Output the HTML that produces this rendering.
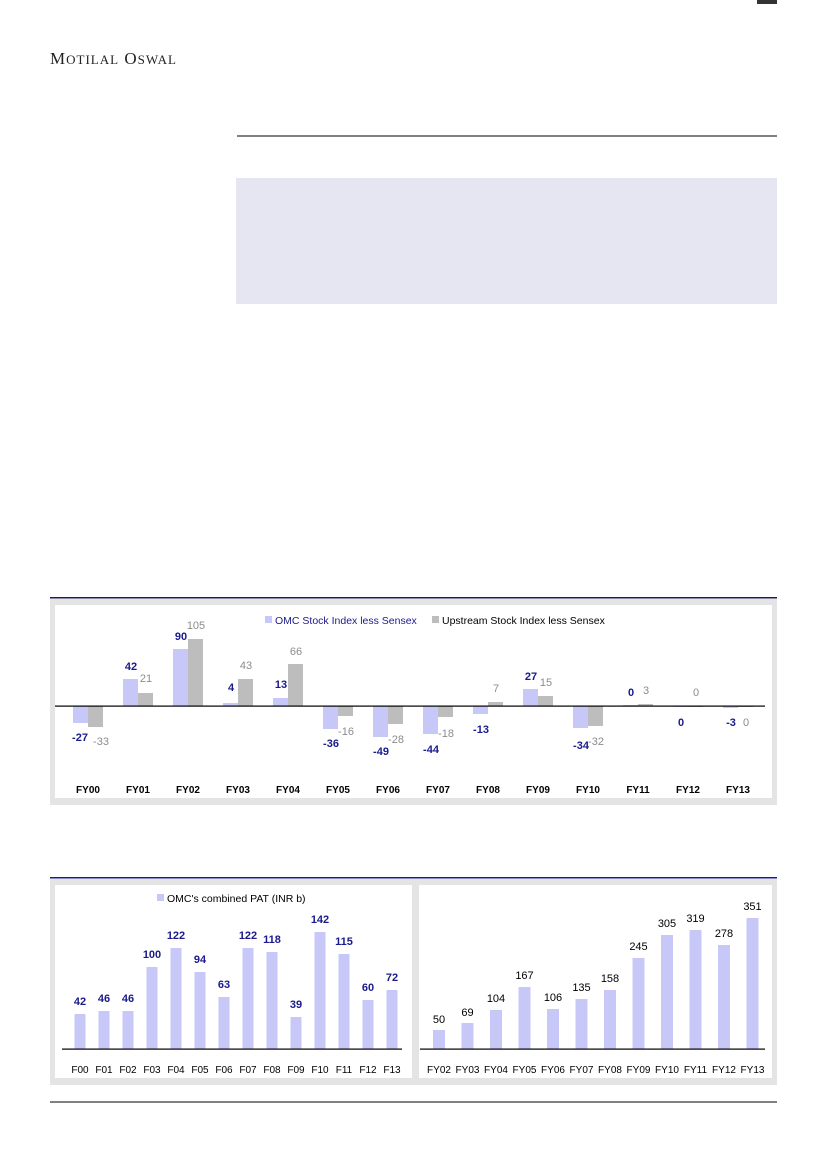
<!DOCTYPE html>
<html><head><meta charset="utf-8"><style>
body{margin:0;background:#fff}
svg{display:block}
text{font-family:"Liberation Sans",sans-serif}
.bl{fill:#1a1a8c;font-weight:bold;font-size:11px;text-anchor:middle}
.gr{fill:#8c8c8c;font-size:11px;text-anchor:middle}
.xl{fill:#000;font-size:10px;text-anchor:middle}
.bk{fill:#000;font-size:11px;text-anchor:middle}
</style></head><body>
<svg width="826" height="1169" viewBox="0 0 826 1169">
<rect x="757" y="0" width="20" height="4" fill="#333"/>
<text x="50" y="64" style="font-family:'Liberation Serif',serif;font-size:17px;fill:#222;letter-spacing:1px">M<tspan font-size="13">OTILAL</tspan> O<tspan font-size="13">SWAL</tspan></text>
<rect x="237" y="135.5" width="540" height="1" fill="#000"/>
<rect x="236" y="178" width="541" height="126" fill="#e6e6f2"/>

<!-- top chart -->
<rect x="50" y="597" width="727" height="1.5" fill="#1a1a5a"/>
<rect x="50" y="599" width="727" height="206" fill="#e4e4e4"/>
<rect x="55" y="605" width="717" height="193" fill="#fff"/>
<rect x="265" y="616" width="7" height="7" fill="#c8c8f8"/>
<text x="275" y="624" font-size="10.5" fill="#1a1a8c">OMC Stock Index less Sensex</text>
<rect x="432" y="616" width="7" height="7" fill="#bdbdbd"/>
<text x="442" y="624" font-size="10.5" fill="#000">Upstream Stock Index less Sensex</text>
<g fill="#c8c8f8">
<rect x="73" y="706" width="15" height="17"/>
<rect x="123" y="679" width="15" height="27"/>
<rect x="173" y="649" width="15" height="57"/>
<rect x="223" y="703" width="15" height="3"/>
<rect x="273" y="698" width="15" height="8"/>
<rect x="323" y="706" width="15" height="23"/>
<rect x="373" y="706" width="15" height="31"/>
<rect x="423" y="706" width="15" height="28"/>
<rect x="473" y="706" width="15" height="8"/>
<rect x="523" y="689" width="15" height="17"/>
<rect x="573" y="706" width="15" height="22"/>
<rect x="623" y="705" width="15" height="1"/>
<rect x="673" y="706" width="15" height="1"/>
<rect x="723" y="706" width="15" height="2"/>
</g>
<g fill="#bdbdbd">
<rect x="88" y="706" width="15" height="21"/>
<rect x="138" y="693" width="15" height="13"/>
<rect x="188" y="639" width="15" height="67"/>
<rect x="238" y="679" width="15" height="27"/>
<rect x="288" y="664" width="15" height="42"/>
<rect x="338" y="706" width="15" height="10"/>
<rect x="388" y="706" width="15" height="18"/>
<rect x="438" y="706" width="15" height="11"/>
<rect x="488" y="702" width="15" height="4"/>
<rect x="538" y="696" width="15" height="10"/>
<rect x="588" y="706" width="15" height="20"/>
<rect x="638" y="704" width="15" height="2"/>
<rect x="688" y="706" width="15" height="1"/>
<rect x="738" y="706" width="15" height="1"/>
</g>
<rect x="55" y="705.5" width="710" height="1.2" fill="#000"/>
<text class="bl" x="80" y="741">-27</text><text class="gr" x="101" y="745">-33</text>
<text class="bl" x="131" y="670">42</text><text class="gr" x="146" y="682">21</text>
<text class="bl" x="181" y="640">90</text><text class="gr" x="196" y="629">105</text>
<text class="bl" x="231" y="691">4</text><text class="gr" x="246" y="669">43</text>
<text class="bl" x="281" y="688">13</text><text class="gr" x="296" y="655">66</text>
<text class="bl" x="331" y="747">-36</text><text class="gr" x="346" y="735">-16</text>
<text class="bl" x="381" y="755">-49</text><text class="gr" x="396" y="743">-28</text>
<text class="bl" x="431" y="753">-44</text><text class="gr" x="446" y="737">-18</text>
<text class="bl" x="481" y="733">-13</text><text class="gr" x="496" y="692">7</text>
<text class="bl" x="531" y="680">27</text><text class="gr" x="546" y="686">15</text>
<text class="bl" x="581" y="749">-34</text><text class="gr" x="596" y="745">-32</text>
<text class="bl" x="631" y="696">0</text><text class="gr" x="646" y="694">3</text>
<text class="bl" x="681" y="726">0</text><text class="gr" x="696" y="696">0</text>
<text class="bl" x="731" y="726">-3</text><text class="gr" x="746" y="726">0</text>
<g class="xl" font-weight="bold">
<text x="88" y="793">FY00</text><text x="138" y="793">FY01</text><text x="188" y="793">FY02</text><text x="238" y="793">FY03</text><text x="288" y="793">FY04</text><text x="338" y="793">FY05</text><text x="388" y="793">FY06</text><text x="438" y="793">FY07</text><text x="488" y="793">FY08</text><text x="538" y="793">FY09</text><text x="588" y="793">FY10</text><text x="638" y="793">FY11</text><text x="688" y="793">FY12</text><text x="738" y="793">FY13</text>
</g>

<!-- bottom charts -->
<rect x="50" y="877" width="727" height="1.5" fill="#1a1a8c"/>
<rect x="50" y="879" width="727" height="206" fill="#e4e4e4"/>
<rect x="55" y="885" width="357" height="193" fill="#fff"/>
<rect x="419" y="885" width="353" height="193" fill="#fff"/>
<rect x="157" y="894" width="7" height="7" fill="#c8c8f8"/>
<text x="167" y="902" font-size="10.5" fill="#000">OMC's combined PAT (INR b)</text>
<g fill="#c8c8f8">
<rect x="74.5" y="1014" width="11" height="35"/>
<rect x="98.5" y="1011" width="11" height="38"/>
<rect x="122.5" y="1011" width="11" height="38"/>
<rect x="146.5" y="967" width="11" height="82"/>
<rect x="170.5" y="948" width="11" height="101"/>
<rect x="194.5" y="972" width="11" height="77"/>
<rect x="218.5" y="997" width="11" height="52"/>
<rect x="242.5" y="948" width="11" height="101"/>
<rect x="266.5" y="952" width="11" height="97"/>
<rect x="290.5" y="1017" width="11" height="32"/>
<rect x="314.5" y="932" width="11" height="117"/>
<rect x="338.5" y="954" width="11" height="95"/>
<rect x="362.5" y="1000" width="11" height="49"/>
<rect x="386.5" y="990" width="11" height="59"/>
</g>
<rect x="62" y="1048.5" width="340" height="1.2" fill="#000"/>
<g class="bl" font-weight="normal">
<text x="80" y="1005">42</text><text x="104" y="1002">46</text><text x="128" y="1002">46</text><text x="152" y="958">100</text><text x="176" y="939">122</text><text x="200" y="963">94</text><text x="224" y="988">63</text><text x="248" y="939">122</text><text x="272" y="943">118</text><text x="296" y="1008">39</text><text x="320" y="923">142</text><text x="344" y="945">115</text><text x="368" y="991">60</text><text x="392" y="981">72</text>
</g>
<g class="xl">
<text x="80" y="1073">F00</text><text x="104" y="1073">F01</text><text x="128" y="1073">F02</text><text x="152" y="1073">F03</text><text x="176" y="1073">F04</text><text x="200" y="1073">F05</text><text x="224" y="1073">F06</text><text x="248" y="1073">F07</text><text x="272" y="1073">F08</text><text x="296" y="1073">F09</text><text x="320" y="1073">F10</text><text x="344" y="1073">F11</text><text x="368" y="1073">F12</text><text x="392" y="1073">F13</text>
</g>
<g fill="#c8c8f8">
<rect x="433" y="1030" width="12" height="19"/>
<rect x="461.5" y="1023" width="12" height="26"/>
<rect x="490" y="1010" width="12" height="39"/>
<rect x="518.5" y="987" width="12" height="62"/>
<rect x="547" y="1009" width="12" height="40"/>
<rect x="575.5" y="999" width="12" height="50"/>
<rect x="604" y="990" width="12" height="59"/>
<rect x="632.5" y="958" width="12" height="91"/>
<rect x="661" y="935" width="12" height="114"/>
<rect x="689.5" y="930" width="12" height="119"/>
<rect x="718" y="945" width="12" height="104"/>
<rect x="746.5" y="918" width="12" height="131"/>
</g>
<rect x="420" y="1048.5" width="345" height="1.2" fill="#000"/>
<g class="bk">
<text x="439" y="1023">50</text><text x="467.5" y="1016">69</text><text x="496" y="1002">104</text><text x="524.5" y="979">167</text><text x="553" y="1001">106</text><text x="581.5" y="991">135</text><text x="610" y="982">158</text><text x="638.5" y="950">245</text><text x="667" y="927">305</text><text x="695.5" y="922">319</text><text x="724" y="937">278</text><text x="752.5" y="910">351</text>
</g>
<g class="xl">
<text x="439" y="1073">FY02</text><text x="467.5" y="1073">FY03</text><text x="496" y="1073">FY04</text><text x="524.5" y="1073">FY05</text><text x="553" y="1073">FY06</text><text x="581.5" y="1073">FY07</text><text x="610" y="1073">FY08</text><text x="638.5" y="1073">FY09</text><text x="667" y="1073">FY10</text><text x="695.5" y="1073">FY11</text><text x="724" y="1073">FY12</text><text x="752.5" y="1073">FY13</text>
</g>
<rect x="50" y="1101.5" width="727" height="1" fill="#000"/>
</svg>
</body></html>
